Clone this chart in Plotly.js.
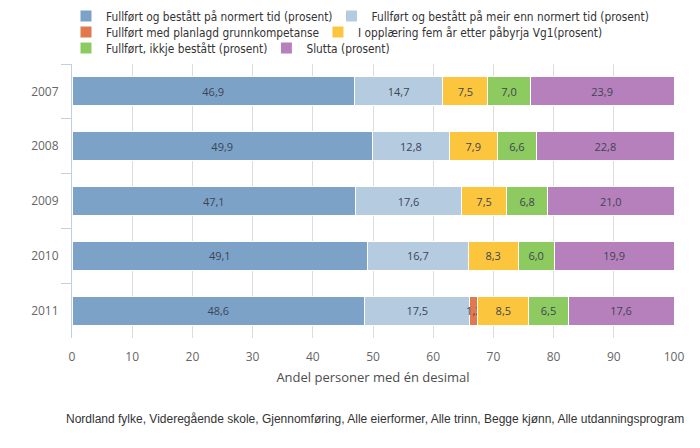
<!DOCTYPE html>
<html>
<head>
<meta charset="utf-8">
<script src="https://cdn.plot.ly/plotly-3.0.1.min.js"></script>
<style>html,body{margin:0;padding:0;background:#fff;}#chart{width:700px;height:448px;}</style>
</head>
<body>
<div id="chart"></div>
<script>
var years = ['2007', '2008', '2009', '2010', '2011'];
var seriesNames = [
  'Fullført og bestått på normert tid (prosent)',
  'Fullført og bestått på meir enn normert tid (prosent)',
  'Fullført med planlagd grunnkompetanse',
  'I opplæring fem år etter påbyrja Vg1(prosent)',
  'Fullført, ikkje bestått (prosent)',
  'Slutta (prosent)'
];
var normertTid   = [46.9, 49.9, 47.1, 49.1, 48.6];
var meirEnnTid   = [14.7, 12.8, 17.6, 16.7, 17.5];
var grunnkomp    = [null, null, null, null, 1.3];
var iOpplaering  = [7.5, 7.9, 7.5, 8.3, 8.5];
var ikkjeBestatt = [7.0, 6.6, 6.8, 6.0, 6.5];
var slutta       = [23.9, 22.8, 21.0, 19.9, 17.6];
var xTicks = [0, 10, 20, 30, 40, 50, 60, 70, 80, 90, 100];
var xTitle = 'Andel personer med én desimal';
var footer = 'Nordland fylke, Videregående skole, Gjennomføring, Alle eierformer, Alle trinn, Begge kjønn, Alle utdanningsprogram';

var seriesValues = [normertTid, meirEnnTid, grunnkomp, iOpplaering, ikkjeBestatt, slutta];
var colors = ['#7ca2c8', '#b4cbe0', '#e0794d', '#fbc63d', '#8dca5f', '#b680bc'];
var legendIds = ['legend', 'legend', 'legend2', 'legend2', 'legend3', 'legend3'];

var labelFont = {family: 'Open Sans, sans-serif', size: 11, color: '#3d4555'};

var data = seriesValues.map(function (vals, i) {
  return {
    type: 'bar',
    orientation: 'h',
    name: seriesNames[i],
    y: years,
    x: vals,
    text: vals.map(function (v) { return v === null ? '' : v.toFixed(1).replace('.', ','); }),
    textposition: 'inside',
    insidetextanchor: 'middle',
    textangle: 0,
    constraintext: 'none',
    cliponaxis: false,
    textfont: labelFont,
    marker: {color: colors[i], line: {color: '#ffffff', width: 1}},
    legend: legendIds[i],
    hoverinfo: 'name+x'
  };
});

// plot area geometry in pixels (for placing legends/footer)
var W = 700, H = 448, ML = 72, MR = 26, MT = 64, MB = 110;
var PW = W - ML - MR, PH = H - MT - MB;
function paperX(px) { return (px - ML) / PW; }
function paperY(py) { return (H - MB - py) / PH; }

var legendFont = {family: 'DejaVu Sans Condensed, DejaVu Sans, sans-serif', size: 11.8, color: '#333333'};
function mkLegend(yPix) {
  return {
    orientation: 'h',
    xref: 'paper', yref: 'container',
    x: 0, xanchor: 'left',
    y: 1 - yPix / H, yanchor: 'middle',
    indentation: -6,
    font: legendFont,
    bgcolor: 'rgba(0,0,0,0)',
    borderwidth: 0,
    traceorder: 'normal'
  };
}

var layout = {
  width: W,
  height: H,
  margin: {l: ML, r: MR, t: MT, b: MB},
  paper_bgcolor: '#ffffff',
  plot_bgcolor: '#ffffff',
  barmode: 'stack',
  bargap: 0.47,
  showlegend: true,
  legend: mkLegend(16),
  legend2: mkLegend(32),
  legend3: mkLegend(48),
  xaxis: {
    range: [0, 100],
    tickvals: xTicks,
    ticktext: xTicks.map(String),
    showgrid: true,
    gridcolor: '#dcdcdc',
    gridwidth: 1,
    zeroline: false,
    showline: false,
    ticks: '',
    ticklabelstandoff: 10,
    tickfont: {family: 'Open Sans, sans-serif', size: 12, color: '#666666'},
    title: {text: xTitle, font: {family: 'Open Sans, sans-serif', size: 13, color: '#4d4d4d'}, standoff: 8},
    fixedrange: true
  },
  yaxis: {
    type: 'category',
    categoryorder: 'array',
    categoryarray: years,
    autorange: 'reversed',
    showgrid: false,
    zeroline: false,
    showline: true,
    linecolor: '#c0d0e0',
    linewidth: 1,
    ticks: 'outside',
    tickson: 'boundaries',
    ticklen: 10,
    tickcolor: '#c0d0e0',
    ticklabelstandoff: 10,
    tickfont: {family: 'Open Sans, sans-serif', size: 12, color: '#666666'},
    fixedrange: true
  },
  annotations: [{
    text: footer,
    xref: 'paper', yref: 'paper',
    x: paperX(375), y: paperY(419),
    xanchor: 'center', yanchor: 'middle',
    showarrow: false,
    font: {family: 'Liberation Sans, Arial, sans-serif', size: 12, color: '#333333'}
  }]
};

Plotly.newPlot('chart', data, layout, {displayModeBar: false, responsive: false});
</script>
</body>
</html>
